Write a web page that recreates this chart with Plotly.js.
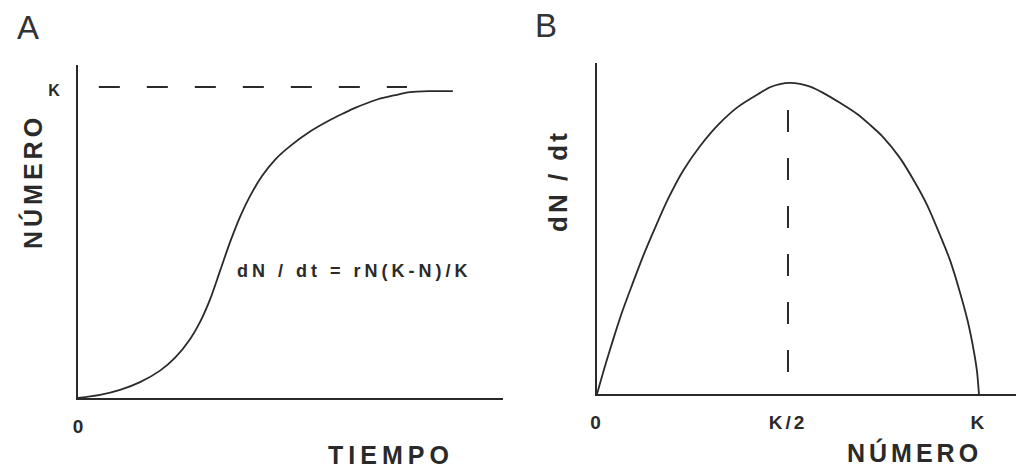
<!DOCTYPE html>
<html>
<head>
<meta charset="utf-8">
<script src="https://cdn.plot.ly/plotly-3.0.1.min.js"></script>
<style>
  html, body { margin: 0; padding: 0; background: #fff; }
  #chart { width: 1016px; height: 470px; }
</style>
</head>
<body>
<div id="chart"></div>
<script>
// ---- Panel A: logistic growth (N as % of K vs. time, arbitrary units) ----
const timeA   = [0, 5.2, 9.9, 14.6, 19.3, 22.8, 26.4, 28.7, 31.1, 33.4, 35.8, 38.1, 40.5, 43.3, 46.4, 49.9, 54.6, 59.3, 62.4, 65.2, 70.4, 74.6, 78.1, 82.8, 88.2];
const numberA = [0, 1.0, 2.6, 5.1, 8.8, 12.9, 19.0, 24.4, 31.8, 40.8, 50.2, 58.2, 65.0, 71.4, 76.7, 81.0, 85.7, 89.4, 91.5, 93.3, 96.0, 97.4, 98.4, 98.7, 98.7];
// carrying capacity reference line
const kLineX = [4.9, 77.4];
const kLineY = [100, 100];

// ---- Panel B: dN/dt vs N (N as % of K, rate as % of maximum) ----
const numberB = [0, 2.1, 4.2, 6.5, 9.2, 12.0, 15.2, 18.6, 22.5, 27.0, 31.7, 36.9, 42.7, 45.3, 47.9, 50.5, 53.1, 55.8, 59.2, 63.6, 68.1, 71.5, 74.9, 79.3, 83.3, 86.4, 89.8, 92.4, 95.0, 97.1, 98.7, 99.5, 100];
const rateB   = [0, 9.0, 17.4, 26.1, 35.1, 44.1, 53.4, 62.7, 71.7, 79.7, 86.5, 92.3, 96.8, 98.6, 99.6, 100, 99.7, 98.8, 96.8, 93.6, 90.0, 86.5, 82.6, 75.9, 67.9, 60.8, 51.1, 43.1, 32.8, 23.2, 13.5, 7.1, 0];
// K/2 reference line
const halfKX = [50, 50];
const halfKY = [91.3, 7.1];

// ---- Tick labels ----
const tickValsAX = [0];          const tickTextAX = ['0'];
const tickValsAY = [100];        const tickTextAY = ['K'];
const tickValsBX = [0, 50, 100]; const tickTextBX = ['0', 'K/2', 'K'];

// ---- Texts ----
const panelLabels = ['A', 'B'];
const titleAY = 'NÚMERO';
const titleAX = 'TIEMPO';
const titleBY = 'dN / dt';
const titleBX = 'NÚMERO';
const equation = 'dN / dt = rN(K-N)/K';

const FONT = 'Liberation Sans, Arial, sans-serif';
const INK = '#2a2a2a';
const sp = (t, px) => `<span style="letter-spacing:${px}px">${t}</span>`;

const W = 1016, H = 470;
const px = x => x / W;
const py = y => 1 - y / H;

const curveLine = { color: INK, width: 1.8, shape: 'spline', smoothing: 0.8 };
const dashLine = { color: INK, width: 2, dash: '21px,27px' };

const traces = [
  { x: timeA, y: numberA, mode: 'lines', line: curveLine, xaxis: 'x', yaxis: 'y', hoverinfo: 'skip' },
  { x: kLineX, y: kLineY, mode: 'lines', line: dashLine, xaxis: 'x', yaxis: 'y', hoverinfo: 'skip' },
  { x: numberB, y: rateB, mode: 'lines', line: curveLine, xaxis: 'x2', yaxis: 'y2', hoverinfo: 'skip' },
  { x: halfKX, y: halfKY, mode: 'lines', line: { color: INK, width: 2, dash: '22px,26px' }, xaxis: 'x2', yaxis: 'y2', hoverinfo: 'skip' }
];

const axBase = {
  showline: true, linecolor: INK, linewidth: 2, showgrid: false, zeroline: false,
  ticks: '', fixedrange: true,
  tickfont: { family: FONT, size: 19, color: INK, weight: 'bold' }
};

const layout = {
  width: W, height: H,
  margin: { l: 0, r: 0, t: 0, b: 0 },
  paper_bgcolor: '#fff', plot_bgcolor: '#fff',
  showlegend: false,
  xaxis: Object.assign({}, axBase, {
    domain: [px(78), px(503)], range: [0, 100], anchor: 'y',
    tickmode: 'array', tickvals: tickValsAX, ticktext: tickTextAX, ticklabelstandoff: 10
  }),
  yaxis: Object.assign({}, axBase, {
    domain: [py(398), py(65)], range: [0, 107.1], anchor: 'x',
    tickmode: 'array', tickvals: tickValsAY, ticktext: tickTextAY, ticklabelstandoff: 13, ticklabelshift: 3,
    tickfont: { family: FONT, size: 16, color: INK, weight: 'bold' }
  }),
  xaxis2: Object.assign({}, axBase, {
    domain: [px(597), 1], range: [0, 109.7], anchor: 'y2',
    tickmode: 'array', tickvals: tickValsBX, ticktext: tickTextBX.map(t => sp(t, 3)), ticklabelstandoff: 10
  }),
  yaxis2: Object.assign({}, axBase, {
    domain: [py(394), py(63)], range: [0, 106.4], anchor: 'x2',
    showticklabels: false
  }),
  annotations: [
    { text: panelLabels[0], x: px(28), y: py(28), font: { family: FONT, size: 33, color: '#333' } },
    { text: panelLabels[1], x: px(546), y: py(26), font: { family: FONT, size: 33, color: '#333' } },
    { text: sp(titleAY, 4), x: px(32), y: py(182), textangle: -90, font: { family: FONT, size: 25, color: INK, weight: 'bold' } },
    { text: sp(titleAX, 5), x: px(391), y: py(455), font: { family: FONT, size: 25, color: INK, weight: 'bold' } },
    { text: sp(equation, 4), x: px(354), y: py(271), font: { family: FONT, size: 18, color: INK, weight: 'bold' } },
    { text: sp(titleBY, 3), x: px(558), y: py(181), textangle: -90, font: { family: FONT, size: 26, color: INK, weight: 'bold' } },
    { text: sp(titleBX, 4), x: px(914), y: py(452), font: { family: FONT, size: 25, color: INK, weight: 'bold' } }
  ].map(a => Object.assign({ xref: 'paper', yref: 'paper', xanchor: 'center', yanchor: 'middle', showarrow: false }, a))
};

Plotly.newPlot('chart', traces, layout, { staticPlot: true, displayModeBar: false });
</script>
</body>
</html>
